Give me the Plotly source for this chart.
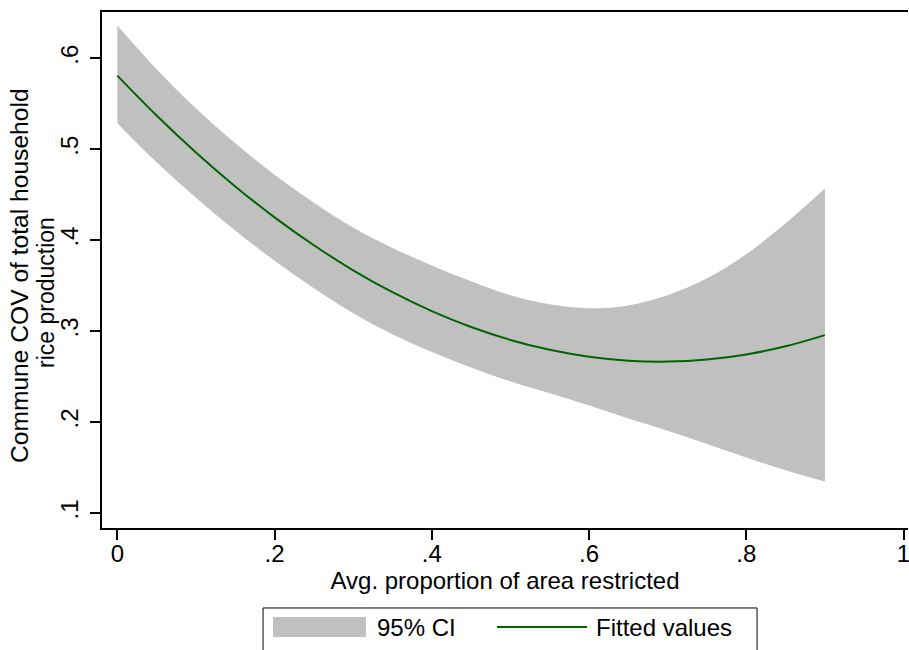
import plotly.graph_objects as go

# Data (fitted curve with 95% CI)
x_vals = [0.0, 0.05, 0.1, 0.15, 0.2, 0.25, 0.3, 0.35, 0.4, 0.45,
          0.5, 0.55, 0.6, 0.65, 0.7, 0.75, 0.8, 0.85, 0.9]
fitted = [0.5810, 0.5371, 0.4964, 0.4591, 0.4251, 0.3944, 0.3669, 0.3428, 0.3220, 0.3045,
          0.2903, 0.2794, 0.2718, 0.2675, 0.2665, 0.2688, 0.2744, 0.2833, 0.2956]
ci_low = [0.5286, 0.4856, 0.4467, 0.4106, 0.3774, 0.3471, 0.3197, 0.2965, 0.2770, 0.2600,
          0.2446, 0.2318, 0.2183, 0.2040, 0.1905, 0.1760, 0.1610, 0.1470, 0.1345]
ci_high = [0.6360, 0.5880, 0.5450, 0.5065, 0.4720, 0.4412, 0.4140, 0.3915, 0.3722, 0.3548,
           0.3395, 0.3295, 0.3252, 0.3283, 0.3393, 0.3580, 0.3845, 0.4185, 0.4567]

x_ticks = [0, 0.2, 0.4, 0.6, 0.8, 1]
x_tick_labels = ["0", ".2", ".4", ".6", ".8", "1"]
y_ticks = [0.1, 0.2, 0.3, 0.4, 0.5, 0.6]
y_tick_labels = [".1", ".2", ".3", ".4", ".5", ".6"]

legend_labels = ["95% CI", "Fitted values"]
y_title_lines = ["Commune COV of total household", "rice production"]
x_title = "Avg. proportion of area restricted"

FONT = "Liberation Sans, Arial, Helvetica, sans-serif"
GRAY = "#c0c0c0"
GREEN = "#006400"
FS = 24

fig = go.Figure()
fig.add_trace(go.Scatter(x=x_vals, y=ci_low, mode="lines", line=dict(width=0, color=GRAY, shape="spline"),
                         showlegend=False, hoverinfo="skip"))
fig.add_trace(go.Scatter(x=x_vals, y=ci_high, mode="lines", fill="tonexty", fillcolor=GRAY,
                         line=dict(width=0, color=GRAY, shape="spline"), name=legend_labels[0],
                         showlegend=False))
fig.add_trace(go.Scatter(x=x_vals, y=fitted, mode="lines", line=dict(width=2, color=GREEN, shape="spline"),
                         name=legend_labels[1], showlegend=False))

# Stata-style legend box below the plot (paper coordinates)
fig.add_shape(type="rect", xref="paper", yref="paper", x0=0.1998, x1=0.8127, y0=-0.155, y1=-0.32,
              line=dict(color="black", width=1), fillcolor="rgba(0,0,0,0)", layer="above")
fig.add_shape(type="rect", xref="paper", yref="paper", x0=0.2122, x1=0.3275, y0=-0.2112, y1=-0.1725,
              line=dict(width=0), fillcolor=GRAY)
fig.add_shape(type="line", xref="paper", yref="paper", x0=0.4901, x1=0.6017, y0=-0.1919, y1=-0.1919,
              line=dict(width=2, color=GREEN))
fig.add_annotation(text=legend_labels[0], xref="paper", yref="paper", x=0.3387, y=-0.1919,
                   xanchor="left", yanchor="middle", showarrow=False, font=dict(size=FS))
fig.add_annotation(text=legend_labels[1], xref="paper", yref="paper", x=0.6104, y=-0.1919,
                   xanchor="left", yanchor="middle", showarrow=False, font=dict(size=FS))

# y-axis title (two lines, as laid out in the reference)
fig.add_annotation(text=y_title_lines[0], xref="paper", yref="paper", x=-0.1030, y=0.4903,
                   xanchor="center", yanchor="middle", textangle=-90, showarrow=False,
                   font=dict(size=24.6))
fig.add_annotation(text=y_title_lines[1], xref="paper", yref="paper", x=-0.0697, y=0.457,
                   xanchor="center", yanchor="middle", textangle=-90, showarrow=False,
                   font=dict(size=23))

fig.update_layout(
    width=909, height=650,
    margin=dict(l=102, r=1, t=12, b=122),
    paper_bgcolor="white", plot_bgcolor="white",
    font=dict(family=FONT, size=FS, color="black"),
    showlegend=False,
    xaxis=dict(range=[-0.0195, 1.0057], tickvals=x_ticks, ticktext=x_tick_labels, automargin=False,
               showgrid=False, zeroline=False, showline=True, linecolor="black", linewidth=1.5,
               mirror=True, ticks="outside", ticklen=10, tickwidth=1.5, tickcolor="black",
               tickfont=dict(size=FS), ticklabelstandoff=-7, ticklabeloverflow="allow",
               title=dict(text=x_title, standoff=2, font=dict(size=FS))),
    yaxis=dict(range=[0.0835, 0.6509], tickvals=y_ticks, ticktext=y_tick_labels, tickangle=-90,
               automargin=False,
               showgrid=False, zeroline=False, showline=True, linecolor="black", linewidth=1.5,
               ticks="outside", ticklen=10, tickwidth=1.5, tickcolor="black",
               tickfont=dict(size=FS), ticklabelstandoff=3),
)

fig.write_html("out.html", config={"displayModeBar": False},
               post_script="document.body.style.margin = '0';")
